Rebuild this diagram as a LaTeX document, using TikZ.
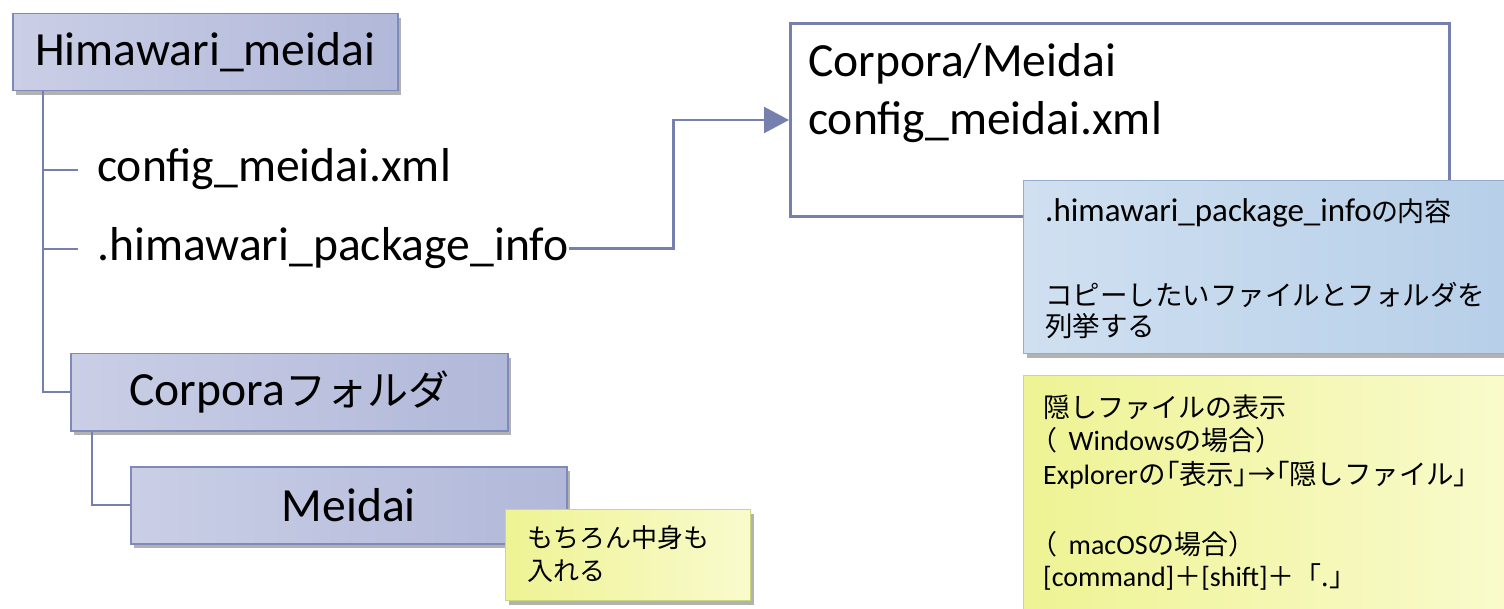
\documentclass[tikz,border=0pt]{standalone}
\usepackage{fontspec}
\setmainfont{Carlito}
\newfontfamily\jp{Noto Sans CJK JP}
\newfontfamily\jpp[RawFeature=+palt]{Noto Sans CJK JP}
\usetikzlibrary{arrows.meta,shadows}
\definecolor{boxA}{RGB}{202,207,230}
\definecolor{boxB}{RGB}{166,174,211}
\definecolor{boxline}{RGB}{128,138,182}
\definecolor{treeline}{RGB}{118,128,174}
\definecolor{blueA}{RGB}{208,224,241}
\definecolor{blueB}{RGB}{182,207,232}
\definecolor{blueline}{RGB}{150,172,206}
\definecolor{yelA}{RGB}{238,243,148}
\definecolor{yelB}{RGB}{249,251,205}
\definecolor{yelline}{RGB}{206,216,122}
\newcommand\bigfont{\fontsize{47.6}{57}\selectfont}
\begin{document}
\begin{tikzpicture}[x=1pt,y=-1pt,
  shade/.style={drop shadow={shadow xshift=3pt,shadow yshift=-4pt,fill=black,opacity=0.3}},
  folder/.style={draw=boxline,line width=1.5pt,left color=boxA,middle color=boxB,right color=boxB!70!boxA,
    shade,minimum height=77pt,inner sep=0pt,anchor=north west,font=\bigfont},
  tree/.style={draw=treeline,line width=2pt},
  label/.style={inner sep=0pt,anchor=base west,font=\bigfont},
  blue note/.style={draw=blueline,line width=1.2pt,left color=blueA,right color=blueB,shade,
    anchor=north west,inner sep=0pt},
  yellow note/.style={draw=yelline,line width=1.2pt,left color=yelA,right color=yelB,shade,
    anchor=north west,inner sep=0pt},
  small/.style={inner sep=0pt,anchor=base west}]
\useasboundingbox (0,0) rectangle (1504,609);

% tree
\node[folder,minimum width=385pt] (root) at (12,13) {Himawari\_meidai};
\coordinate (trunk) at ([xshift=31pt]root.south west);
\node[label] (cfg) at (97,182) {config\_meidai.xml};
\node[label] (pkg) at (97,261) {.himawari\_package\_info};
\node[folder,minimum width=437pt] (corp) at (70,353) {Corpora{\fontsize{41}{50}\jp フォルダ}};
\node[folder,minimum width=436pt] (meidai) at (130,466) {Meidai};
\draw[tree] (trunk) |- (corp.west);
\draw[tree] (trunk |- cfg.west) -- ++(35,0);
\draw[tree] (trunk |- pkg.west) -- ++(35,0);
\draw[tree] ([xshift=22pt]corp.south west) |- (meidai.west);

% right box
\node[draw=treeline,line width=3pt,fill=white,minimum width=659pt,minimum height=193pt,
  anchor=north west,inner sep=0pt] (rbox) at (789,22) {};
\node[label] (r1) at (808,77) {Corpora/Meidai};
\node[label] (r2) at (808,135) {config\_meidai.xml};
\draw[tree,line width=2.5pt,-{Triangle[length=25pt,width=26pt]}] (pkg.east) -- ++(105,0) |- (rbox.west);

% blue note
\node[blue note,minimum width=492pt,minimum height=173pt] (bnote) at (1023,180) {};
\node[small,font=\fontsize{33}{40}\selectfont] (b1) at (1045,222) {.himawari\_package\_info{\fontsize{27}{33}\jpp の内容}};
\node[small,font=\fontsize{27.5}{33}\jp] (b2) at (1045,306) {コピーしたいファイルとフォルダを};
\node[small,font=\fontsize{27.5}{33}\jp] (b3) at (1045,337) {列挙する};

% yellow note
\node[yellow note,minimum width=492pt,minimum height=250pt] (ynote) at (1023,375) {};
\node[small,font=\fontsize{27}{33}\jp] (y1) at (1043,417) {隠しファイルの表示};
\node[small,font=\fontsize{28}{33}\selectfont] (y2) at (1043,450) {{\fontsize{27}{33}\jpp （}\hspace{12pt}Windows{\fontsize{27}{33}\jp の場合）}};
\node[small,font=\fontsize{28}{33}\selectfont] (y3) at (1043,484) {Explorer{\fontsize{27.5}{33}\jp の{\jpp 「}表示{\jpp 」}→{\jpp 「}隠しファイル{\jpp 」}}};
\node[small,font=\fontsize{28}{33}\selectfont] (y4) at (1043,554) {{\fontsize{27}{33}\jpp （}\hspace{12pt}macOS{\fontsize{27}{33}\jp の場合）}};
\node[small,font=\fontsize{28}{33}\selectfont] (y5) at (1043,586) {[command]{\fontsize{27}{33}\jp ＋}[shift]{\fontsize{27}{33}\jp ＋「.」}};

% small note
\node[yellow note,minimum width=245pt,minimum height=91pt] (snote) at (505,509) {};
\node[small,font=\fontsize{26}{32}\jp] (s1) at (527,547) {もちろん中身も};
\node[small,font=\fontsize{26}{32}\jp] (s2) at (527,580) {入れる};
\end{tikzpicture}
\end{document}
